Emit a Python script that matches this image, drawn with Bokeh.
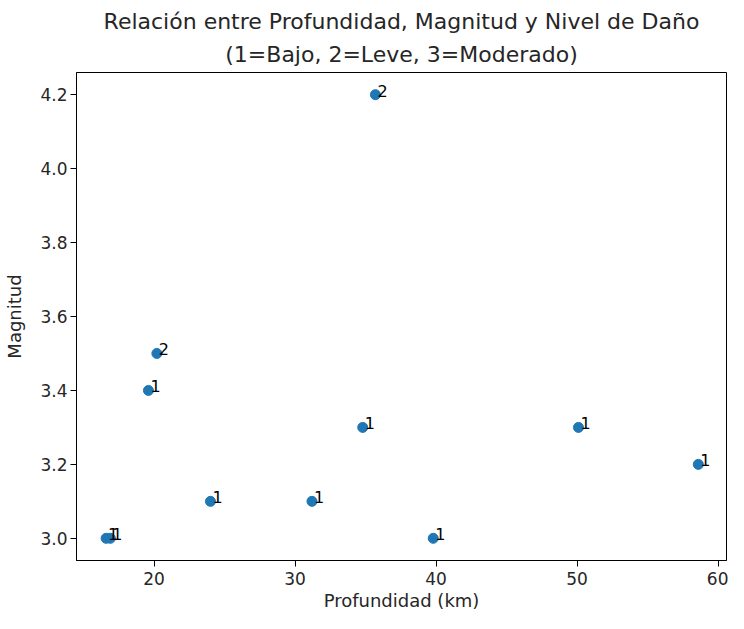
from bokeh.plotting import figure
from bokeh.models import FixedTicker, Title, Range1d
from bokeh.embed import file_html
from bokeh.resources import INLINE
from bokeh.core.properties import value

# Data
profundidad = [16.6, 16.9, 19.6, 20.2, 24.0, 31.2, 34.8, 35.7, 39.8, 50.1, 58.6]
magnitud = [3.0, 3.0, 3.4, 3.5, 3.1, 3.1, 3.3, 4.2, 3.0, 3.3, 3.2]
nivel_dano = [1, 1, 1, 2, 1, 1, 1, 2, 1, 1, 1]

x_ticks = [20, 30, 40, 50, 60]
y_ticks = [3.0, 3.2, 3.4, 3.6, 3.8, 4.0, 4.2]
y_tick_labels = ["3.0", "3.2", "3.4", "3.6", "3.8", "4.0", "4.2"]

title_line1 = "Relación entre Profundidad, Magnitud y Nivel de Daño"
title_line2 = "(1=Bajo, 2=Leve, 3=Moderado)"

FONT = "DejaVu Sans"
TXT = "#262626"

p = figure(width=728, height=613, output_backend="svg", toolbar_location=None,
           x_range=Range1d(14.5, 60.6), y_range=Range1d(2.94, 4.26),
           min_border_left=76, min_border_right=2, min_border_top=72, min_border_bottom=0)

p.title.text = title_line1
p.title.align = "center"
p.title.text_font = FONT
p.title.text_font_size = "22px"
p.title.text_font_style = "normal"
p.title.text_color = TXT
p.title.standoff = 0
p.title.text_line_height = 1.0
p.add_layout(Title(text=title_line2, align="center", standoff=12, text_line_height=1.0,
                   text_font=FONT, text_font_size="22px", text_font_style="normal",
                   text_color=TXT), "above")

p.scatter(profundidad, magnitud, size=10, color="#1f77b4")
p.text(x=profundidad, y=magnitud, text=[str(d) for d in nivel_dano],
       text_font=value(FONT), text_font_size="16px", text_color="black",
       text_align="left", text_baseline="bottom", x_offset=2, y_offset=2)

p.xgrid.visible = False
p.ygrid.visible = False
p.outline_line_color = "black"
p.outline_line_width = 1
p.outline_line_alpha = 1

for ax in (p.xaxis[0], p.yaxis[0]):
    ax.major_tick_in = 0
    ax.major_tick_out = 6
    ax.minor_tick_in = 0
    ax.minor_tick_out = 0
    ax.axis_line_color = "black"
    ax.major_tick_line_color = "black"
    ax.major_label_text_font = FONT
    ax.major_label_text_font_size = "17px"
    ax.major_label_text_color = TXT
    ax.axis_label_text_font = FONT
    ax.axis_label_text_font_size = "18px"
    ax.axis_label_text_font_style = "normal"
    ax.axis_label_text_color = TXT
    ax.major_label_standoff = 3

p.xaxis.major_label_standoff = 5
p.xaxis.ticker = FixedTicker(ticks=x_ticks)
p.yaxis.ticker = FixedTicker(ticks=y_ticks)
p.yaxis.major_label_overrides = {t: l for t, l in zip(y_ticks, y_tick_labels)}
p.xaxis.axis_label = "Profundidad (km)"
p.yaxis.axis_label = "Magnitud"
p.xaxis.axis_label_standoff = 2
p.yaxis.axis_label_standoff = 12

open("out.html", "w").write(file_html(p, INLINE))
